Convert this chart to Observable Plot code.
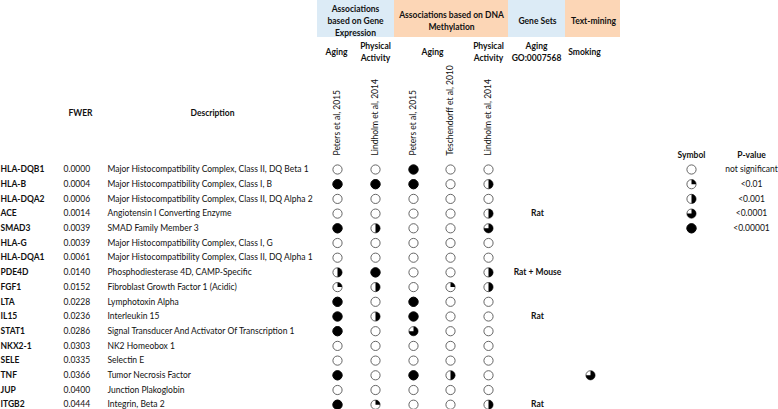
<!DOCTYPE html>
<html>
<head>
<meta charset="utf-8">
<script src="https://cdn.jsdelivr.net/npm/d3@7"></script>
<script src="https://cdn.jsdelivr.net/npm/@observablehq/plot@0.6"></script>
<style>
  html, body { margin: 0; padding: 0; background: #fff; }
</style>
</head>
<body>
<div id="chart"></div>
<script>
// ---------- data ----------
const genes = ["HLA-DQB1","HLA-B","HLA-DQA2","ACE","SMAD3","HLA-G","HLA-DQA1","PDE4D","FGF1","LTA","IL15","STAT1","NKX2-1","SELE","TNF","JUP","ITGB2"];
const fwer = ["0.0000","0.0004","0.0006","0.0014","0.0039","0.0039","0.0061","0.0140","0.0152","0.0228","0.0236","0.0286","0.0303","0.0335","0.0366","0.0400","0.0444"];
const descriptions = [
  "Major Histocompatibility Complex, Class II, DQ Beta 1",
  "Major Histocompatibility Complex, Class I, B",
  "Major Histocompatibility Complex, Class II, DQ Alpha 2",
  "Angiotensin I Converting Enzyme",
  "SMAD Family Member 3",
  "Major Histocompatibility Complex, Class I, G",
  "Major Histocompatibility Complex, Class II, DQ Alpha 1",
  "Phosphodiesterase 4D, CAMP-Specific",
  "Fibroblast Growth Factor 1 (Acidic)",
  "Lymphotoxin Alpha",
  "Interleukin 15",
  "Signal Transducer And Activator Of Transcription 1",
  "NK2 Homeobox 1",
  "Selectin E",
  "Tumor Necrosis Factor",
  "Junction Plakoglobin",
  "Integrin, Beta 2"
];
// significance levels: 0 = not significant, 1 = <0.01, 2 = <0.001, 3 = <0.0001, 4 = <0.00001
const exprAgingPeters2015      = [0,4,0,0,4,0,0,2,1,4,4,4,0,0,4,0,4];
const exprActivityLindholm2014 = [0,4,0,0,2,0,0,4,2,0,2,0,0,0,0,0,1];
const methAgingPeters2015      = [4,4,0,0,0,0,0,0,0,4,4,3,0,0,4,0,0];
const methAgingTeschendorff2010= [0,0,0,0,0,0,0,0,1,0,0,0,0,0,2,0,0];
const methActivityLindholm2014 = [0,2,0,2,3,0,0,2,2,0,0,0,0,0,0,0,2];
const geneSetsAging = ["","","","Rat","","","","Rat + Mouse","","","Rat","","","","","","Rat"];
const textMiningSmoking = [null,null,null,null,null,null,null,null,null,null,null,null,null,null,3,null,null];

const studyLabels = ["Peters et al, 2015","Lindholm et al, 2014","Peters et al, 2015","Teschendorff et al, 2010","Lindholm et al, 2014"];
const studySeries = [exprAgingPeters2015, exprActivityLindholm2014, methAgingPeters2015, methAgingTeschendorff2010, methActivityLindholm2014];
const groupTitles = ["Associations\nbased on Gene\nExpression","Associations based on DNA\nMethylation","Gene Sets","Text-mining"];
const subHeaders = ["Aging","Physical\nActivity","Aging","Physical\nActivity","Aging\nGO:0007568","Smoking"];
const legendLevels = [0,1,2,3,4];
const legendLabels = ["not significant","<0.01","<0.001","<0.0001","<0.00001"];

// ---------- layout (pixels) ----------
const W = 778, H = 409;
const row0 = 169, rowStep = 14.7;             // row centres in px
const py = px => (px - row0) / rowStep;        // px -> row units
const L = {
  geneX: 0, fwerX: 63, descX: 107,
  studyX: [337, 375, 413, 450, 488],
  geneSetX: 537, smokingX: 590,
  legSymX: 691, legLabX: 751,
  boxes: [[317,394,"#dcebf6"],[394,508,"#fcd6b6"],[508,565,"#dcebf6"],[565,620,"#fcd6b6"]],
  boxBottom: 37,
  groupTitleX: [355, 451, 537, 593],
  subX: [336, 375, 432, 488, 536, 584],
  subY: 51,
  studyLabelBottom: 155,
  colHeadY: 113,
  fwerHeadX: 80, descHeadX: 212,
  legHeadY: 155,
  r: 4.6
};

// ---------- derived tables ----------
const rows = genes.map((g, i) => ({g, i, fwer: fwer[i], desc: descriptions[i], gs: geneSetsAging[i]}));
const cells = [];
studySeries.forEach((s, c) => s.forEach((lev, i) => cells.push({x: L.studyX[c], row: i, level: lev})));
textMiningSmoking.forEach((lev, i) => { if (lev != null) cells.push({x: L.smokingX, row: i, level: lev}); });
legendLevels.forEach((lev, i) => cells.push({x: L.legSymX, row: i, level: lev}));

const sector = frac => ({
  draw(ctx, size) {
    const r = Math.sqrt(size / Math.PI);
    ctx.moveTo(0, 0);
    ctx.lineTo(0, -r);
    ctx.arc(0, 0, r, -Math.PI / 2, -Math.PI / 2 + frac * 2 * Math.PI);
    ctx.closePath();
  }
});

const boxes = L.boxes.map(([a, b, c]) => ({x1: a, x2: b, fill: c}));
const titles = groupTitles.map((t, k) => ({t, x: L.groupTitleX[k]}));
const subs = subHeaders.map((t, k) => ({t, x: L.subX[k]}));
const studies = studyLabels.map((t, k) => ({t, x: L.studyX[k]}));
const legend = legendLabels.map((t, i) => ({t, row: i}));

const font = "Lato, 'Open Sans', sans-serif";
const fs = 8.5;
const ink = "#111";

const marks = [
  Plot.rect(boxes, {x1: "x1", x2: "x2", y1: py(0), y2: py(L.boxBottom), fill: "fill"}),
  Plot.text(titles, {x: "x", y: py(L.boxBottom / 2 + 1), text: "t", fontWeight: "bold", fontSize: fs, lineHeight: 1.45, fill: ink}),
  Plot.text(subs, {x: "x", y: py(L.subY), text: "t", fontWeight: "bold", fontSize: fs, lineHeight: 1.4, fill: ink}),
  Plot.text(studies, {x: "x", y: py(L.studyLabelBottom), text: "t", rotate: -90, textAnchor: "start", fontSize: fs, fill: ink}),
  Plot.text(["FWER"], {x: L.fwerHeadX, y: py(L.colHeadY), text: d => d, fontWeight: "bold", fontSize: fs, fill: ink}),
  Plot.text(["Description"], {x: L.descHeadX, y: py(L.colHeadY), text: d => d, fontWeight: "bold", fontSize: fs, fill: ink}),
  Plot.text(rows, {x: L.geneX, y: "i", text: "g", textAnchor: "start", fontWeight: "bold", fontSize: fs, fill: ink}),
  Plot.text(rows, {x: L.fwerX, y: "i", text: "fwer", textAnchor: "start", fontSize: fs, fill: ink}),
  Plot.text(rows, {x: L.descX, y: "i", text: "desc", textAnchor: "start", fontSize: fs, fill: ink}),
  Plot.text(rows.filter(d => d.gs), {x: L.geneSetX, y: "i", text: "gs", fontWeight: "bold", fontSize: fs, fill: ink}),
  Plot.text(["Symbol"], {x: L.legSymX, y: py(L.legHeadY), text: d => d, fontWeight: "bold", fontSize: fs, fill: ink}),
  Plot.text(["P-value"], {x: L.legLabX, y: py(L.legHeadY), text: d => d, fontWeight: "bold", fontSize: fs, fill: ink}),
  Plot.text(legend, {x: L.legLabX, y: "row", text: "t", fontSize: fs, fill: ink}),
  // base circles
  Plot.dot(cells, {x: "x", y: "row", r: L.r, fill: "white", stroke: "#555", strokeWidth: 0.9}),
  // partial fills
  ...[1, 2, 3].map(lev => Plot.dot(cells.filter(d => d.level === lev), {x: "x", y: "row", r: L.r, symbol: sector(lev / 4), fill: "#000"})),
  Plot.dot(cells.filter(d => d.level === 4), {x: "x", y: "row", r: L.r, fill: "#000", stroke: "#000", strokeWidth: 0.9})
];

const chart = Plot.plot({
  width: W, height: H, margin: 0,
  x: {type: "linear", domain: [0, W], range: [0, W], axis: null},
  y: {type: "linear", domain: [py(0), py(H)], range: [0, H], axis: null},
  style: {fontFamily: font, background: "white", overflow: "visible"},
  marks
});
document.getElementById("chart").appendChild(chart);
</script>
</body>
</html>
